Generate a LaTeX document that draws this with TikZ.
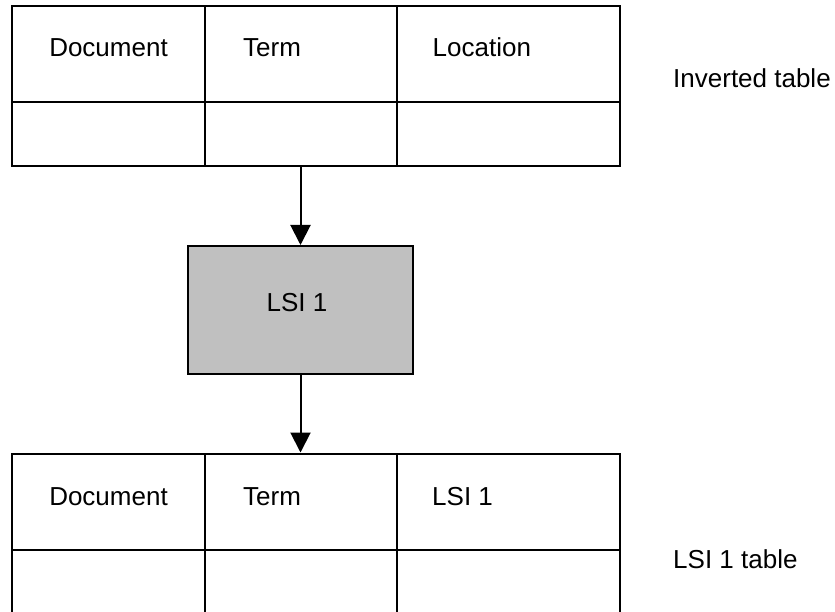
\documentclass[tikz,border=0pt]{standalone}
\usepackage{fontspec}
\setmainfont{Liberation Sans}
\usetikzlibrary{arrows.meta}
\definecolor{boxgray}{RGB}{192,192,192}
\begin{document}
\begin{tikzpicture}[x=1pt,y=-1pt,
  every node/.style={font=\fontsize{26}{31}\selectfont, inner sep=0pt},
  frame/.style={draw=black, line width=2pt, rectangle, minimum width=608pt},
  process/.style={draw=black, line width=2pt, fill=boxgray, rectangle,
                  minimum width=225pt, minimum height=128pt},
  rule/.style={line width=2pt},
  flow/.style={line width=2pt, -{Triangle[width=20pt,length=20pt]}},
  cell/.style={anchor=base west},
  headcell/.style={anchor=base}]
\useasboundingbox (0,0) rectangle (835,612);
\clip (0,0) rectangle (835,612);
\fill[white] (0,0) rectangle (835,612);

% inverted table
\node[frame, minimum height=160pt] (inv) at (316,86) {};
\coordinate (invrow) at (12,102);
\coordinate (invc1) at (205,6);
\coordinate (invc2) at (397,6);
\draw[rule] (invrow) -- (invrow -| inv.east);
\draw[rule] (invc1) -- (invc1 |- inv.south);
\draw[rule] (invc2) -- (invc2 |- inv.south);
\node[headcell] (invdoc) at (108.5,57) {Document};
\node[cell] (invterm) at (243,57) {Term};
\node[cell] (invloc) at (432.5,57) {Location};
\node[cell] (invlabel) at (673,88) {Inverted table};

% LSI step
\node[process] (lsi) at (300.5,310) {};
\node[headcell] (lsitext) at (297,312) {LSI 1};

% LSI 1 table
\node[frame, minimum height=161pt] (res) at (316,534) {};
\coordinate (resrow) at (12,550);
\coordinate (resc1) at (205,453.5);
\coordinate (resc2) at (397,453.5);
\draw[rule] (resrow) -- (resrow -| res.east);
\draw[rule] (resc1) -- (resc1 |- res.south);
\draw[rule] (resc2) -- (resc2 |- res.south);
\node[headcell] (resdoc) at (108.5,505) {Document};
\node[cell] (resterm) at (243,505) {Term};
\node[cell] (reslsi) at (432,505) {LSI 1};
\node[cell] (reslabel) at (673,568) {LSI 1 table};

% connectors
\draw[flow] (lsi.north |- inv.south) -- (lsi.north);
\draw[flow] (lsi.south) -- (lsi.south |- res.north);
\end{tikzpicture}
\end{document}
